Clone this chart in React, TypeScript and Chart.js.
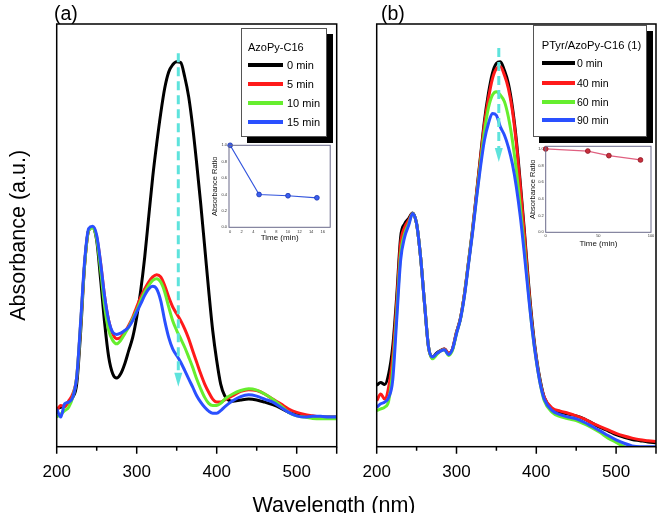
import React, { useEffect, useRef } from 'react';
import { Chart, registerables } from 'chart.js';
Chart.register(...registerables);

const FONT = "'Liberation Sans', Arial, Helvetica, sans-serif";

// ---- Data ----
const wavelengths = [200,205,210,215,220,225,230,235,240,245,250,255,260,265,270,275,280,285,290,295,300,305,310,315,320,325,330,335,340,345,350,355,360,365,370,375,380,385,390,395,400,405,410,420,430,440,450,460,470,480,490,500,510,520,530,540,550];

const seriesNamesA = ['0 min', '5 min', '10 min', '15 min'];
const seriesNamesB = ['0 min', '40 min', '60 min', '90 min'];
const seriesColors = ['#000000', '#ff1a1a', '#66ee2e', '#2a50ff'];

const absA0 = [.088,.092,.096,.104,.115,.146,.27,.427,.505,.512, .481,.388,.287,.209,.17,.16,.17,.193,.224,.255, .302,.364,.442,.536,.629,.707,.777,.836,.874,.891, .898,.896,.863,.816,.746,.66,.567,.466,.364,.271, .201,.146,.119, .106,.109,.111,.109,.104,.098,.09,.08,.075,.072,.07,.07,.069,.069];
const absA5 = [.084,.096,.093,.107,.123,.162,.287,.427,.505,.512, .489,.427,.349,.294,.263,.252,.255,.267,.283,.302, .326,.349,.368,.384,.396,.401,.396,.376,.349,.326, .31,.294,.275,.252,.224,.197,.17,.146,.127,.111, .104,.104,.109, .119,.129,.133,.131,.123,.111,.1,.088,.08,.075,.072,.069,.066,.066];
const absA10 = [.069,.076,.084,.092,.115,.162,.287,.427,.505,.511, .485,.411,.326,.271,.248,.24,.248,.263,.279,.298, .318,.341,.361,.376,.388,.392,.384,.361,.326,.294, .271,.252,.232,.209,.185,.158,.135,.115,.101,.096, .096,.101,.111, .123,.131,.135,.132,.123,.111,.096,.08,.072,.069,.066,.065,.065,.065];
const absA15 = [.088,.069,.1,.104,.115,.162,.294,.435,.509,.514, .493,.427,.349,.294,.267,.262,.265,.271,.279,.294, .314,.333,.353,.368,.374,.368,.341,.294,.255,.228, .213,.197,.178,.158,.139,.119,.104,.092,.083,.078, .078,.084,.093, .107,.117,.121,.118,.111,.104,.092,.08,.072,.069,.071,.071,.069,.069];

const absB0 = [.143,.15,.145,.17,.232,.349,.489,.52,.532,.545, .52,.442,.333,.232,.209,.218,.224,.228,.217,.228, .267,.3,.357,.43,.505,.59,.676,.76,.824,.871, .894,.898,.878,.847,.793,.715,.614,.505,.388,.287, .209,.154,.115, .088,.08,.076,.072,.065,.055,.045,.037,.028,.022,.017,.014,.011,.009];
const absB40 = [.107,.123,.111,.139,.209,.333,.474,.512,.528,.544, .52,.442,.333,.232,.207,.216,.224,.228,.218,.228, .267,.3,.357,.43,.503,.588,.672,.752,.812,.858, .882,.886,.867,.836,.785,.707,.606,.497,.38,.279, .205,.15,.115, .09,.083,.078,.072,.065,.055,.047,.039,.031,.025,.02,.016,.014,.012];
const absB60 = [.084,.088,.092,.107,.178,.31,.45,.497,.52,.544, .52,.442,.333,.232,.205,.214,.223,.226,.213,.225, .264,.298,.354,.428,.5,.58,.66,.735,.79,.82, .828,.82,.805,.769,.715,.645,.559,.466,.364,.271, .201,.146,.107, .08,.07,.065,.061,.053,.044,.033,.02,.01,0,-.006,-.012,-.016,-.02];
const absB90 = [.092,.1,.104,.115,.154,.294,.435,.489,.516,.544, .52,.442,.333,.232,.209,.217,.223,.226,.215,.228, .264,.298,.352,.425,.497,.578,.652,.715,.754,.777, .773,.746,.727,.699,.66,.606,.536,.45,.357,.271, .201,.146,.111, .084,.075,.069,.065,.057,.047,.037,.026,.016,.008,.002,0,0,0];

const xTickLabels = [200, 300, 400, 500];
const xTickMajor = [200, 300, 400, 500, 550];
const xTickMinor = [250, 350, 450];

const timeA = [0, 5, 10, 15];
const ratioA = [1.0, 0.40, 0.385, 0.36];
const timeB = [0, 40, 60, 90];
const ratioB = [1.0, 0.975, 0.92, 0.868];
const insetTicksXA = [0, 2, 4, 6, 8, 10, 12, 14, 16];
const insetTicksXB = [0, 50, 100];
const insetTicksY = [0, 0.2, 0.4, 0.6, 0.8, 1.0];

// ---- Plugin: frame, tick marks, arrow ----
const decoPlugin = {
  id: 'deco',
  afterDatasetsDraw(chart: any, _args: any, opts: any) {
    if (!opts || !opts.arrow) return;
    const { ctx, scales } = chart;
    const a = opts.arrow;
    const x = scales.x.getPixelForValue(a.x);
    const y1 = scales.y.getPixelForValue(a.top);
    const y2 = scales.y.getPixelForValue(a.bottom);
    ctx.save();
    ctx.strokeStyle = '#5ee3dc';
    ctx.fillStyle = '#5ee3dc';
    ctx.lineWidth = 3;
    ctx.setLineDash([9, 5]);
    ctx.beginPath();
    ctx.moveTo(x, y1);
    ctx.lineTo(x, y2 - 12);
    ctx.stroke();
    ctx.setLineDash([]);
    ctx.beginPath();
    ctx.moveTo(x - 4, y2 - 14);
    ctx.lineTo(x + 4, y2 - 14);
    ctx.lineTo(x, y2);
    ctx.closePath();
    ctx.fill();
    ctx.restore();
  },
  afterDraw(chart: any, _args: any, opts: any) {
    const { ctx, chartArea: ca, scales } = chart;
    ctx.save();
    ctx.strokeStyle = opts.frameColor || '#000';
    ctx.lineWidth = opts.frameWidth || 1.5;
    ctx.strokeRect(ca.left, ca.top, ca.right - ca.left, ca.bottom - ca.top);
    if (opts.major) {
      ctx.beginPath();
      for (const v of opts.major) {
        const x = scales.x.getPixelForValue(v);
        ctx.moveTo(x, ca.bottom);
        ctx.lineTo(x, ca.bottom + 7);
      }
      for (const v of opts.minor || []) {
        const x = scales.x.getPixelForValue(v);
        ctx.moveTo(x, ca.bottom);
        ctx.lineTo(x, ca.bottom + 4);
      }
      ctx.stroke();
    }
    ctx.restore();
  },
};

function mainConfig(values: number[][], names: string[], arrow: any, yTitle: string | null, yWidth: number, padRight: number) {
  return {
    type: 'line',
    data: {
      datasets: values.map((vals, i) => ({
        label: names[i],
        data: wavelengths.map((w, j) => ({ x: w, y: vals[j] })),
        borderColor: seriesColors[i],
        backgroundColor: seriesColors[i],
        borderWidth: 3,
        pointRadius: 0,
        fill: false,
        cubicInterpolationMode: 'monotone',
        order: 4 - i,
      })),
    },
    options: {
      responsive: false,
      animation: false,
      devicePixelRatio: 1,
      layout: { padding: { top: 24, right: padRight, left: 0, bottom: 0 } },
      plugins: {
        legend: { display: false },
        tooltip: { enabled: false },
        deco: { arrow, major: xTickMajor, minor: xTickMinor, frameColor: '#000', frameWidth: 1.5 },
      },
      scales: {
        x: {
          type: 'linear',
          min: 200,
          max: 550,
          afterBuildTicks: (s: any) => { s.ticks = xTickLabels.map((v) => ({ value: v })); },
          afterFit: (s: any) => { s.height = 513 - 446.7; },
          grid: { display: false, drawTicks: false },
          border: { display: false },
          ticks: { font: { family: FONT, size: 17 }, color: '#000', padding: 15, maxRotation: 0, autoSkip: false },
        },
        y: {
          type: 'linear',
          min: 0,
          max: 0.986,
          afterFit: (s: any) => { s.width = yWidth; },
          grid: { display: false, drawTicks: false },
          border: { display: false },
          ticks: { display: false },
          title: {
            display: !!yTitle,
            text: yTitle || '',
            color: '#000',
            font: { family: FONT, size: 21.5 },
            padding: { top: 6, bottom: 0 },
          },
        },
      },
    },
    plugins: [decoPlugin],
  };
}

function insetConfig(xs: number[], ys: number[], xmin: number, xmax: number, ymax: number, xTicks: number[], lay: any, colors: any) {
  return {
    type: 'line',
    data: {
      datasets: [{
        label: 'Absorbance Ratio',
        data: xs.map((x, i) => ({ x, y: ys[i] })),
        borderColor: colors.line,
        borderWidth: 1.2,
        pointRadius: 2.4,
        pointBackgroundColor: colors.fill,
        pointBorderColor: colors.edge,
        pointBorderWidth: 0.8,
        tension: 0,
        clip: false,
      }],
    },
    options: {
      responsive: false,
      animation: false,
      devicePixelRatio: 1,
      layout: { padding: { top: lay.padTop, right: lay.padRight, left: 0, bottom: 0 } },
      plugins: {
        legend: { display: false },
        tooltip: { enabled: false },
        deco: { frameColor: '#6a6a8a', frameWidth: 1 },
      },
      scales: {
        x: {
          type: 'linear',
          min: xmin,
          max: xmax,
          afterBuildTicks: (s: any) => { s.ticks = xTicks.map((v) => ({ value: v })); },
          afterFit: (s: any) => { s.height = lay.xHeight; },
          grid: { display: false, drawTicks: false },
          border: { display: false },
          ticks: { font: { family: FONT, size: 4 }, color: '#333', padding: lay.xTickPad, maxRotation: 0, autoSkip: false },
          title: { display: true, text: 'Time (min)', color: '#111', font: { family: FONT, size: 8 }, padding: { top: 0, bottom: lay.xTitlePad } },
        },
        y: {
          type: 'linear',
          min: 0,
          max: ymax,
          afterBuildTicks: (s: any) => { s.ticks = insetTicksY.map((v) => ({ value: v })); },
          afterFit: (s: any) => { s.width = lay.yWidth; },
          grid: { display: false, drawTicks: false },
          border: { display: false },
          ticks: { font: { family: FONT, size: 4 }, color: '#333', padding: 2, callback: (v: any) => Number(v).toFixed(1) },
          title: { display: true, text: 'Absorbance Ratio', color: '#111', font: { family: FONT, size: 7.5 }, padding: { top: lay.yTitlePad, bottom: 0 } },
        },
      },
    },
    plugins: [decoPlugin],
  };
}

function ChartBox({ make, left, top, width, height }: any) {
  const ref = useRef<HTMLCanvasElement>(null);
  useEffect(() => {
    const chart = new Chart(ref.current as HTMLCanvasElement, make());
    return () => chart.destroy();
  }, []);
  return (
    <canvas ref={ref} width={width} height={height}
      style={{ position: 'absolute', left, top, width, height, display: 'block' }} />
  );
}

function Legend({ left, top, width, height, title, names, titleY, rowYs, lineX, lineW, labelX, fontSize, titleSize }: any) {
  return (
    <div style={{
      position: 'absolute', left, top, width, height, boxSizing: 'border-box',
      border: '1px solid #555', background: '#fff', boxShadow: '6px 6px 0 #000',
      fontFamily: FONT, fontSize, color: '#000',
    }}>
      <div style={{ position: 'absolute', left: lineX, top: titleY - 8, height: 16, lineHeight: '16px', whiteSpace: 'nowrap', fontSize: titleSize || fontSize }}>{title}</div>
      {names.map((n: string, i: number) => (
        <React.Fragment key={n}>
          <div style={{ position: 'absolute', left: lineX, top: rowYs[i] - 2, width: lineW, height: 4, background: seriesColors[i] }} />
          <div style={{ position: 'absolute', left: labelX, top: rowYs[i] - 8, height: 16, lineHeight: '16px', whiteSpace: 'nowrap' }}>{n}</div>
        </React.Fragment>
      ))}
    </div>
  );
}

export default function App() {
  const txt: any = { position: 'absolute', fontFamily: FONT, color: '#000', whiteSpace: 'nowrap' };
  return (
    <div style={{ position: 'fixed', left: 0, top: 0, width: 659, height: 513, background: '#fff', overflow: 'hidden' }}>
      <ChartBox left={0} top={0} width={345} height={513}
        make={() => mainConfig([absA0, absA5, absA10, absA15], seriesNamesA, { x: 352, top: 0.918, bottom: 0.14 }, 'Absorbance (a.u.)', 56.7, 8.3)} />
      <ChartBox left={345} top={0} width={314} height={513}
        make={() => mainConfig([absB0, absB40, absB60, absB90], seriesNamesB, { x: 353, top: 0.93, bottom: 0.664 }, null, 31.7, 3)} />
      <ChartBox left={200} top={138} width={135} height={107}
        make={() => insetConfig(timeA, ratioA, -0.2, 17.3, 1.0, insetTicksXA,
          { padTop: 7.3, padRight: 4, xHeight: 17.7, yWidth: 29, xTickPad: 2.4, xTitlePad: 2.2, yTitlePad: 10.5 },
          { line: '#3355dd', fill: '#3a5ef0', edge: '#1a35b0' })} />
      <ChartBox left={522} top={138} width={137} height={112}
        make={() => insetConfig(timeB, ratioB, 0, 100, 1.032, insetTicksXB,
          { padTop: 8.3, padRight: 8, xHeight: 17.7, yWidth: 23.7, xTickPad: 1, xTitlePad: 1.2, yTitlePad: 6.5 },
          { line: '#e06080', fill: '#c8303c', edge: '#901020' })} />
      <Legend left={240.7} top={28.3} width={86} height={108.7} title="AzoPy-C16" names={seriesNamesA}
        titleY={17.7} rowYs={[35.7, 54.7, 73.7, 92.7]} lineX={6.3} lineW={35} labelX={45.3} fontSize={11} />
      <Legend left={533.3} top={25} width={113.7} height={112} title="PTyr/AzoPy-C16 (1)" names={seriesNamesB}
        titleY={19} rowYs={[37, 56.7, 75.7, 94]} lineX={7.4} lineW={33.3} labelX={42.7} fontSize={10.5} titleSize={11.2} />
      <div style={{ ...txt, left: 54, top: 2, fontSize: 19.5, lineHeight: '22px' }}>(a)</div>
      <div style={{ ...txt, left: 381, top: 2, fontSize: 19.5, lineHeight: '22px' }}>(b)</div>
      <div style={{ ...txt, left: 234, width: 200, textAlign: 'center', top: 493, fontSize: 21.5, lineHeight: '24px' }}>Wavelength (nm)</div>
    </div>
  );
}
